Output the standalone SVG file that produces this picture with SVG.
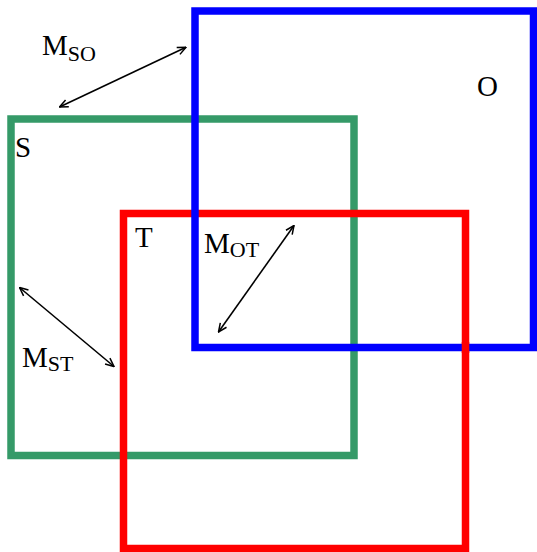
<svg xmlns="http://www.w3.org/2000/svg" width="537" height="552" viewBox="0 0 537 552">
<style>
.box{fill:none;stroke-width:7.5}
.lbl{font-family:"Liberation Serif","Times New Roman",serif;font-size:29px;fill:#000}
.sub{font-size:22px}
.arr{stroke:#000;stroke-width:1.6;fill:none;marker-start:url(#ah);marker-end:url(#ah)}
</style>
<defs>
<marker id="ah" viewBox="0 0 10 10" refX="9.5" refY="5" markerWidth="10" markerHeight="10" markerUnits="userSpaceOnUse" orient="auto-start-reverse">
<path d="M1,1.2 L9.5,5 L1,8.8" fill="none" stroke="#000" stroke-width="1.5"/>
</marker>
</defs>
<rect width="537" height="552" fill="#fff"/>
<g id="S">
<rect class="box" x="11" y="119" width="343" height="336.5" stroke="#359a68"/>
<text class="lbl" x="15" y="157">S</text>
</g>
<g id="T">
<rect class="box" x="123.5" y="213.5" width="342" height="335" stroke="#ff0000"/>
<text class="lbl" x="135" y="246.5">T</text>
</g>
<g id="O">
<rect class="box" x="195" y="11" width="338.5" height="336.5" stroke="#0000ff"/>
<line x1="465.5" y1="342" x2="465.5" y2="353" stroke="#ff0000" stroke-width="7.5"/>
<text class="lbl" x="477" y="96">O</text>
</g>
<g id="connectors">
<line class="arr" x1="186" y1="47.3" x2="59.5" y2="107"/>
<line class="arr" x1="19.5" y1="287.5" x2="114" y2="366.5"/>
<line class="arr" x1="294" y1="225.5" x2="218.5" y2="332"/>
</g>
<g id="labels">
<text class="lbl" x="42" y="55">M<tspan class="sub" dy="6">SO</tspan></text>
<text class="lbl" x="204" y="253">M<tspan class="sub" dy="4">OT</tspan></text>
<text class="lbl" x="22" y="366.5">M<tspan class="sub" dy="4">ST</tspan></text>
</g>
</svg>
